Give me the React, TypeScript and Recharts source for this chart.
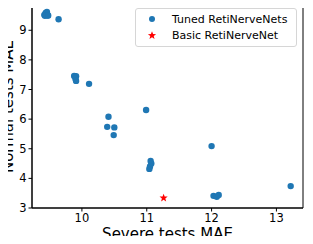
import React from "react";
import {
  ScatterChart,
  Scatter,
  XAxis,
  YAxis,
  Legend,
  ReferenceArea,
} from "recharts";

// values
const tunedSevere = [
  9.42, 9.44, 9.46, 9.47, 9.43, 9.48, 9.64,
  9.88, 9.91, 9.9, 9.91, 10.11,
  10.99, 10.41, 10.39, 10.5, 10.49,
  11.06, 11.07, 11.05, 11.04,
  12.0, 12.03, 12.08, 12.11, 13.22,
];
const tunedNormal = [
  9.52, 9.58, 9.62, 9.5, 9.49, 9.5, 9.37,
  7.46, 7.45, 7.36, 7.29, 7.19,
  6.31, 6.08, 5.74, 5.72, 5.46,
  4.59, 4.5, 4.4, 4.32,
  5.09, 3.41, 3.38, 3.44, 3.74,
];
const basicSevere = [11.26];
const basicNormal = [3.34];

const seriesNames = ["Tuned RetiNerveNets", "Basic RetiNerveNet"];
const xTicks = [10, 11, 12, 13];
const yTicks = [3, 4, 5, 6, 7, 8, 9];
const xDomain = [9.23, 13.41];
const yDomain = [3, 9.92];

const tuned = tunedSevere.map((x, i) => ({ x, y: tunedNormal[i] }));
const basic = basicSevere.map((x, i) => ({ x, y: basicNormal[i] }));

const FONT = "'DejaVu Sans', sans-serif";
const BLUE = "#1f77b4";
const RED = "#ff0000";

function starPath(cx: number, cy: number, r: number) {
  const pts: string[] = [];
  for (let i = 0; i < 10; i++) {
    const rr = i % 2 === 0 ? r : r * 0.42;
    const a = -Math.PI / 2 + (i * Math.PI) / 5;
    pts.push(`${cx + rr * Math.cos(a)},${cy + rr * Math.sin(a)}`);
  }
  return "M" + pts.join("L") + "Z";
}

const LegendBox = () => (
  <div
    style={{
      border: "1px solid #d6d6d6",
      borderRadius: 3,
      background: "rgba(255,255,255,0.8)",
      fontFamily: FONT,
      fontSize: 11,
      color: "#000",
      padding: "2px 0 3px 0",
      boxSizing: "border-box",
    }}
  >
    {seriesNames.map((name, i) => (
      <div key={name} style={{ display: "flex", alignItems: "center", height: 16 }}>
        <svg width={36} height={14} style={{ flex: "none" }}>
          {i === 0 ? (
            <circle cx={16} cy={7} r={3} fill={BLUE} />
          ) : (
            <path d={starPath(16, 7.5, 4.3)} fill={RED} />
          )}
        </svg>
        <span>{name}</span>
      </div>
    ))}
  </div>
);

const XLabel = (props: any) => {
  const vb = props.viewBox;
  return (
    <text
      x={vb.x + vb.width / 2}
      y={vb.y + 31}
      textAnchor="middle"
      fontSize={15}
      fontFamily={FONT}
      fill="#000"
    >
      Severe tests MAE
    </text>
  );
};

const YLabel = (props: any) => {
  const vb = props.viewBox;
  const cx = 13;
  const cy = vb.y + vb.height / 2 + 1;
  return (
    <text
      x={cx}
      y={cy}
      transform={`rotate(-90, ${cx}, ${cy})`}
      textAnchor="middle"
      fontSize={15}
      fontFamily={FONT}
      fill="#000"
    >
      Normal tests MAE
    </text>
  );
};

export default function App() {
  return (
    <div style={{ margin: -8, width: 313, height: 244, background: "#fff" }}>
      <ScatterChart
        width={313}
        height={244}
        margin={{ top: 3, right: 10, bottom: 0, left: 0 }}
      >
        <XAxis
          type="number"
          dataKey="x"
          domain={xDomain}
          ticks={xTicks}
          allowDataOverflow
          height={36}
          tick={{ fontSize: 11.5, fill: "#000", fontFamily: FONT }}
          tickSize={3.5}
          tickMargin={2}
          stroke="#000"
          label={{ content: XLabel }}
        />
        <YAxis
          type="number"
          dataKey="y"
          domain={yDomain}
          ticks={yTicks}
          allowDataOverflow
          width={32}
          tick={{ fontSize: 11.5, fill: "#000", fontFamily: FONT }}
          tickSize={3.5}
          tickMargin={2}
          stroke="#000"
          label={{ content: YLabel }}
        />
        <ReferenceArea
          x1={xDomain[0]}
          x2={xDomain[1]}
          y1={yDomain[0]}
          y2={yDomain[1]}
          fill="none"
          stroke="#000"
          strokeWidth={1}
          ifOverflow="visible"
        />
        <Legend
          layout="vertical"
          align="center"
          verticalAlign="middle"
          content={() => <LegendBox />}
          wrapperStyle={{ top: 8, left: 135, width: 162 }}
        />
        <Scatter
          name={seriesNames[0]}
          data={tuned}
          fill={BLUE}
          shape={(p: any) => <circle cx={p.cx} cy={p.cy} r={3.2} fill={BLUE} />}
          isAnimationActive={false}
        />
        <Scatter
          name={seriesNames[1]}
          data={basic}
          fill={RED}
          shape={(p: any) => <path d={starPath(p.cx, p.cy, 4.3)} fill={RED} />}
          isAnimationActive={false}
        />
      </ScatterChart>
    </div>
  );
}
